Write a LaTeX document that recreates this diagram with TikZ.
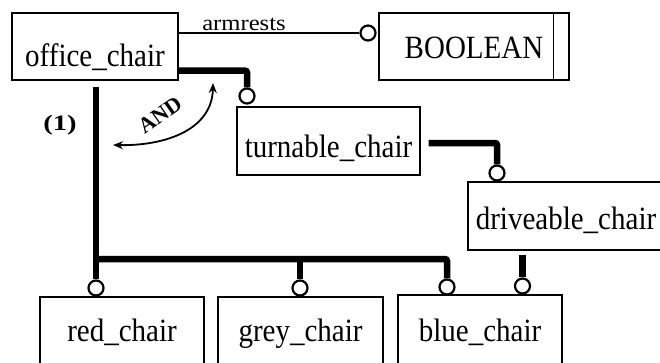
\documentclass[tikz,border=0pt]{standalone}
\usepackage{fontspec}
\setmainfont{Liberation Serif}
\usepackage{graphicx}
\usetikzlibrary{arrows.meta}

% entity labels are set a little taller than the plain font
\newcommand\entlabel[1]{\scalebox{1}[1.12]{#1}}

\begin{document}
\begin{tikzpicture}[x=1pt,y=-1pt,
  entity/.style={draw, line width=1.3pt, inner sep=0pt, text depth=0pt,
                 font=\fontsize{29}{30}\selectfont},
  link/.style={line width=6.5pt, rounded corners=2pt},
  attrlink/.style={line width=1.3pt},
  port/.style={circle, draw, line width=2.2pt, inner sep=0pt,
               minimum size=15pt, fill=white},
  andarrow/.style={line width=1.8pt,
                   {Stealth[length=10pt,width=8pt]}-{Stealth[length=10pt,width=8pt]}}]

\useasboundingbox (0,0) rectangle (660,362);
\clip (0,0) rectangle (660,362);

% entities
\node[entity, minimum width=166pt, minimum height=67pt, text height=39pt]
  (office) at (95,46.5) {\entlabel{office\_chair}};
\node[entity, minimum width=190pt, minimum height=67pt, text height=23pt]
  (bool) at (474,46.5) {\entlabel{BOOLEAN}};
\draw[line width=1.3pt] ([xshift=-16pt]bool.north east) -- ([xshift=-16pt]bool.south east);
\node[entity, minimum width=183pt, minimum height=68pt, text height=32pt]
  (turn) at (328.5,141) {\entlabel{turnable\_chair}};
\node[entity, minimum width=196pt, minimum height=68pt, text height=26pt]
  (drive) at (566,216) {\entlabel{driveable\_chair}};
\node[entity, minimum width=164pt, minimum height=76pt, text height=12pt]
  (red) at (122,335) {\entlabel{red\_chair}};
\node[entity, minimum width=165pt, minimum height=76pt, text height=12pt]
  (grey) at (300.5,335) {\entlabel{grey\_chair}};
\node[entity, minimum width=164pt, minimum height=76pt, text height=16pt]
  (blue) at (480,333) {\entlabel{blue\_chair}};

% connection points
\node[port] (c1) at (368,33) {};
\node[port] (c2) at (247,96) {};
\node[port] (c3) at (497,173) {};
\node[port] (c4) at (96,288) {};
\node[port] (c5) at (300,288) {};
\node[port] (c6) at (447,287) {};
\node[port] (c7) at (522.5,286) {};

% attribute
\draw[attrlink] (office.east |- c1) -- (c1.west);
\node[anchor=base, font=\fontsize{22}{22}\selectfont] (armlbl) at (244,30)
  {\scalebox{1.12}[1]{armrests}};

% specialisations
\draw[link] ([yshift=10pt]office.south east) -| (c2.north);
\draw[link] ([xshift=8pt,yshift=-2pt]turn.east) -| (c3.north);

\coordinate (otop) at (office.south -| c4);
\coordinate (bus) at (96,259);
\draw[link] ([yshift=-6pt]otop) -- (c4.north);
\draw[link] (bus) -| (c6.north);
\draw[link] (bus -| c5) -- (c5.north);

\coordinate (dtop) at (drive.south -| c7);
\draw[link] ([yshift=-4pt]dtop) -- (c7.north);

% cardinality and AND annotation
\node[font=\bfseries\fontsize{22}{22}\selectfont] (mult) at (60,125.5)
  {\scalebox{1.3}[1]{(1)}};
\coordinate (a1) at (213,83);
\coordinate (a2) at (113,145);
\draw[andarrow] (a1) .. controls (212,130) and (165,146) .. (a2);
\node[font=\bfseries\fontsize{22}{22}\selectfont, rotate=35] (andlbl) at (160,115) {AND};

\end{tikzpicture}
\end{document}
